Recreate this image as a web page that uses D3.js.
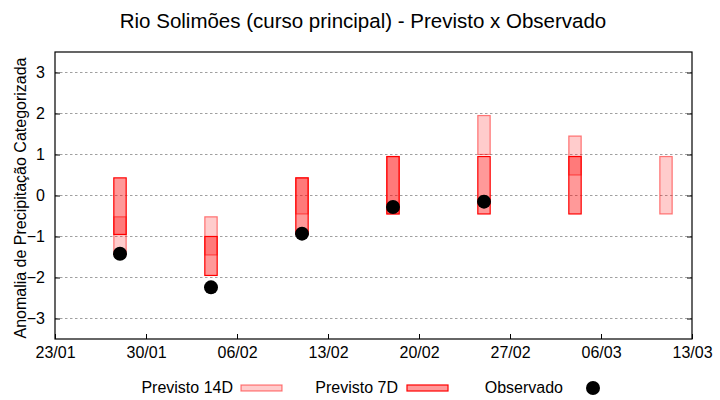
<!DOCTYPE html>
<html>
<head>
<meta charset="utf-8">
<script src="https://cdn.jsdelivr.net/npm/d3@7"></script>
<style>
  body { margin: 0; background: #fff; }
  text { font-family: "Liberation Sans", Arial, sans-serif; fill: #000; }
</style>
</head>
<body>
<div id="chart"></div>
<script>
// Data
const dates = ["2023-01-28", "2023-02-04", "2023-02-11", "2023-02-18", "2023-02-25", "2023-03-04", "2023-03-11"];
const prev14Top = [-0.52, -0.52, 0.43, 0.95, 1.95, 1.45, 0.95];
const prev14Bottom = [-1.45, -1.45, -0.45, -0.45, 1.0, 0.5, -0.45];
const prev7Top = [0.43, -1.0, 0.43, 0.95, 0.95, 0.95, null];
const prev7Bottom = [-0.95, -1.95, -0.95, -0.45, -0.45, -0.45, null];
const observed = [-1.42, -2.24, -0.93, -0.28, -0.15, null, null];
const yTicks = [-3, -2, -1, 0, 1, 2, 3];
const xTickDates = ["2023-01-23", "2023-01-30", "2023-02-06", "2023-02-13", "2023-02-20", "2023-02-27", "2023-03-06", "2023-03-13"];
const legendLabels = ["Previsto 14D", "Previsto 7D", "Observado"];

const parse = d3.utcParse("%Y-%m-%d");
const fmt = d3.utcFormat("%d/%m");

// Set up dimensions
const W = 720, H = 400;
const margin = { top: 52, right: 28, bottom: 61, left: 55 };
const width = W - margin.left - margin.right;
const height = H - margin.top - margin.bottom;

const root = d3.select("#chart")
    .append("svg")
    .attr("width", W)
    .attr("height", H);

const svg = root.append("g")
    .attr("transform", `translate(${margin.left},${margin.top})`);

// Scales
const x = d3.scaleUtc()
    .domain([parse(xTickDates[0]), parse(xTickDates[xTickDates.length - 1])])
    .range([0, width]);

const y = d3.scaleLinear()
    .domain([-3.5, 3.5])
    .range([height, 0]);

const day = 24 * 3600 * 1000;
const barW = x(new Date(parse(dates[0]).getTime() + 0.95 * day)) - x(parse(dates[0]));

// Title
root.append("text")
    .attr("x", 363)
    .attr("y", 27.5)
    .attr("text-anchor", "middle")
    .style("font-size", "20.5px")
    .text("Rio Solimões (curso principal) - Previsto x Observado");

// Y label
root.append("text")
    .attr("transform", `translate(26,198) rotate(-90)`)
    .attr("text-anchor", "middle")
    .style("font-size", "16px")
    .text("Anomalia de Precipitação Categorizada");

// Grid
svg.append("g")
    .selectAll("line")
    .data(yTicks)
    .join("line")
    .attr("x1", 0)
    .attr("x2", width)
    .attr("y1", d => y(d))
    .attr("y2", d => y(d))
    .attr("stroke", "#a0a0a0")
    .attr("stroke-width", 1)
    .attr("stroke-dasharray", "2.5,2.5");

// Previsto 14D bars
const idx = dates.map((d, i) => i);
svg.append("g")
    .selectAll("rect")
    .data(idx.filter(i => prev14Top[i] !== null))
    .join("rect")
    .attr("x", i => x(parse(dates[i])) - barW / 2)
    .attr("width", barW)
    .attr("y", i => y(prev14Top[i]))
    .attr("height", i => y(prev14Bottom[i]) - y(prev14Top[i]))
    .attr("fill", "rgba(255,0,0,0.2)")
    .attr("stroke", "rgba(255,0,0,0.5)")
    .attr("stroke-width", 1.2);

// Previsto 7D bars
svg.append("g")
    .selectAll("rect")
    .data(idx.filter(i => prev7Top[i] !== null))
    .join("rect")
    .attr("x", i => x(parse(dates[i])) - barW / 2)
    .attr("width", barW)
    .attr("y", i => y(prev7Top[i]))
    .attr("height", i => y(prev7Bottom[i]) - y(prev7Top[i]))
    .attr("fill", "rgba(255,0,0,0.4)")
    .attr("stroke", "#ff0000")
    .attr("stroke-width", 1.2);

// Observado
svg.append("g")
    .selectAll("circle")
    .data(idx.filter(i => observed[i] !== null))
    .join("circle")
    .attr("cx", i => x(parse(dates[i])))
    .attr("cy", i => y(observed[i]))
    .attr("r", 7)
    .attr("fill", "#000");

// Axes (gnuplot style: inward ticks, mirrored on y)
const yAxisL = svg.append("g")
    .call(d3.axisLeft(y).tickValues(yTicks).tickSize(-5).tickPadding(10).tickFormat(d3.format("d")));
const yAxisR = svg.append("g")
    .attr("transform", `translate(${width},0)`)
    .call(d3.axisRight(y).tickValues(yTicks).tickSize(-5).tickFormat(""));
const xAxis = svg.append("g")
    .attr("transform", `translate(0,${height})`)
    .call(d3.axisBottom(x).tickValues(xTickDates.map(parse)).tickSize(-5).tickPadding(8).tickFormat(fmt));

[yAxisL, yAxisR, xAxis].forEach(a => {
    a.select(".domain").remove();
    a.selectAll("line").attr("stroke", "#000");
    a.selectAll("text")
        .style("font-size", "16px")
        .style("font-family", "'Liberation Sans', Arial, sans-serif");
});

// Frame
svg.append("rect")
    .attr("x", 0)
    .attr("y", 0)
    .attr("width", width)
    .attr("height", height)
    .attr("fill", "none")
    .attr("stroke", "#000")
    .attr("stroke-width", 1.2);

// Legend
const legendTextX = [233, 398, 563];
const legendSampleX = [241, 407, 573];
const legend = root.append("g");
legendLabels.forEach((label, i) => {
    legend.append("text")
        .attr("x", legendTextX[i])
        .attr("y", 392.5)
        .attr("text-anchor", "end")
        .style("font-size", "16px")
        .text(label);
});
legend.append("rect")
    .attr("x", legendSampleX[0]).attr("y", 385).attr("width", 41).attr("height", 6)
    .attr("fill", "rgba(255,0,0,0.2)").attr("stroke", "rgba(255,0,0,0.5)").attr("stroke-width", 1.2);
legend.append("rect")
    .attr("x", legendSampleX[1]).attr("y", 385).attr("width", 41).attr("height", 6)
    .attr("fill", "rgba(255,0,0,0.4)").attr("stroke", "#ff0000").attr("stroke-width", 1.2);
legend.append("circle")
    .attr("cx", 593).attr("cy", 388).attr("r", 7).attr("fill", "#000");
</script>
</body>
</html>
